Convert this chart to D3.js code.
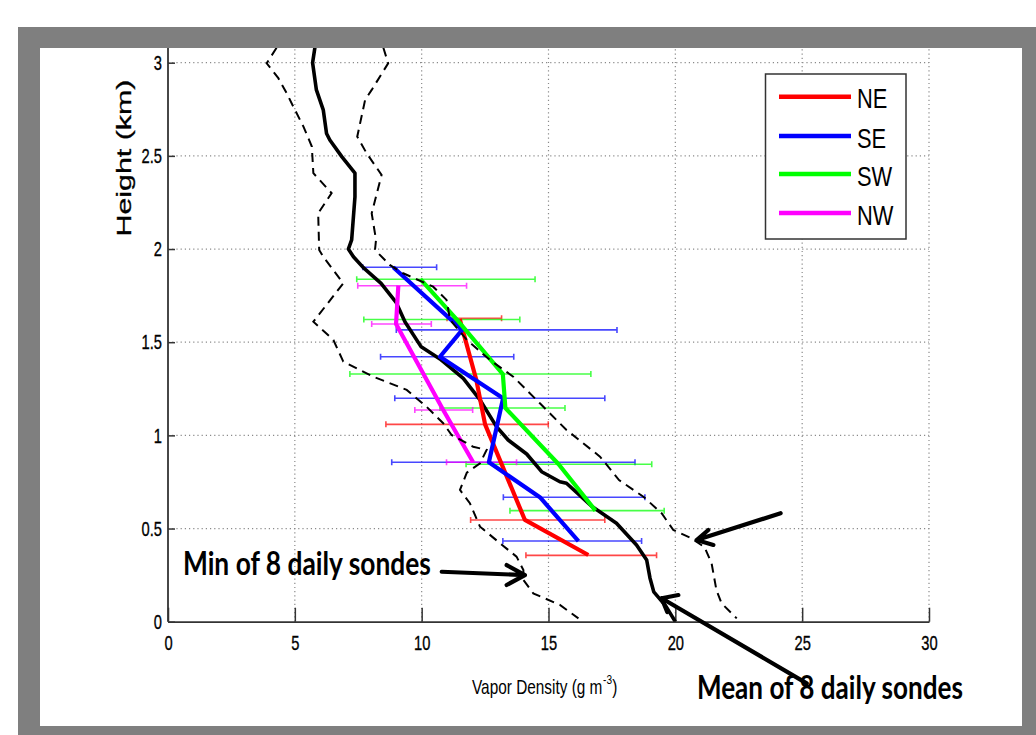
<!DOCTYPE html>
<html><head><meta charset="utf-8">
<script src="https://cdn.jsdelivr.net/npm/d3@7"></script>
<style>html,body{margin:0;padding:0;background:#fff;}svg{display:block;}</style>
</head><body>
<svg id="c" width="1036" height="735"></svg>
<script>
// ---- data (x = vapor density g m^-3, y = height km) ----
const xTicks = [0, 5, 10, 15, 20, 25, 30];
const yTicks = [0, 0.5, 1, 1.5, 2, 2.5, 3];
const yTickLabels = ["0", "0.5", "1", "1.5", "2", "2.5", "3"];
const seriesNames = ["NE", "SE", "SW", "NW"];
const seriesColors = ["#ff0000", "#0000ff", "#00ff00", "#ff00ff"];

const meanProfile = [[5.79,3.08],[5.70,3.0],[5.85,2.854],[6.12,2.747],[6.25,2.62],[6.38,2.585],[6.85,2.496],[7.37,2.407],[7.37,2.28],[7.24,2.049],[7.11,2.0],[7.31,1.959],[7.70,1.9],[8.40,1.816],[9.0,1.712],[9.34,1.61],[9.98,1.475],[10.72,1.41],[11.64,1.306],[12.30,1.19],[12.95,1.047],[13.41,0.975],[14.14,0.9],[14.73,0.805],[15.45,0.751],[15.71,0.743],[16.70,0.62],[17.68,0.528],[18.47,0.412],[18.87,0.331],[19.0,0.235],[19.15,0.16],[19.62,0.085],[20.0,0]];
const minProfile = [[4.28,3.08],[3.89,2.997],[4.35,2.917],[4.68,2.836],[4.94,2.764],[5.34,2.657],[5.67,2.55],[5.73,2.407],[6.45,2.30],[5.92,2.192],[5.96,1.995],[6.12,1.959],[6.91,1.816],[5.73,1.61],[6.52,1.512],[6.91,1.396],[8.09,1.315],[9.41,1.244],[10.19,1.154],[10.85,1.065],[11.18,1.002],[12.03,0.939],[12.56,0.922],[12.30,0.85],[11.78,0.80],[11.51,0.707],[11.90,0.636],[12.30,0.51],[13.09,0.421],[13.74,0.349],[14.01,0.277],[14.01,0.224],[14.40,0.152],[15.45,0.09],[16.18,0.018]];
const maxProfile = [[8.49,3.08],[8.68,2.997],[8.03,2.854],[7.77,2.80],[7.46,2.603],[7.83,2.514],[8.42,2.398],[8.03,2.192],[8.20,2.049],[8.16,1.995],[8.74,1.915],[9.27,1.87],[10.45,1.798],[10.98,1.727],[11.12,1.62],[11.78,1.512],[12.69,1.405],[13.61,1.315],[14.66,1.172],[15.71,1.029],[17.03,0.886],[17.78,0.76],[18.74,0.671],[19.46,0.582],[19.92,0.492],[20.6,0.45],[21.15,0.4],[21.43,0.313],[21.62,0.17],[21.82,0.099],[22.42,0.018]];

const neLine = [[11.5,1.624],[12.15,1.30],[12.5,1.059],[14.07,0.546],[16.57,0.358]];
const seLine = [[8.88,1.902],[11.6,1.566],[10.72,1.422],[13.21,1.199],[12.65,0.856],[14.66,0.668],[16.18,0.433]];
const swLine = [[9.95,1.838],[11.38,1.622],[13.2,1.329],[13.3,1.147],[15.4,0.845],[16.85,0.596]];
const nwLine = [[9.08,1.803],[8.99,1.598],[10.85,1.136],[12.03,0.856]];

// error bars: [height, low, high]
const neErr = [[1.628,11.0,13.15],[1.059,8.59,14.99],[0.546,11.93,17.22],[0.356,14.11,19.26]];
const seErr = [[1.902,7.68,10.59],[1.566,9.0,17.7],[1.422,8.38,13.63],[1.199,8.94,17.22],[0.856,8.82,18.41],[0.668,13.22,18.8],[0.433,13.2,18.67]];
const swErr = [[1.838,7.44,14.47],[1.622,7.72,13.87],[1.329,7.17,16.67],[1.147,10.72,15.65],[0.845,11.75,19.07],[0.596,13.48,19.56]];
const nwErr = [[1.803,7.48,11.77],[1.598,8.03,10.38],[1.136,9.73,12.01],[0.856,10.98,13.74]];

const annMin = {text: "Min of 8 daily sondes", x: 0.59, y: 0.251, tail: [10.79,0.268], tip: [14.07,0.25], barbs: [[13.35,0.304],[13.35,0.197]]};
const annMax = {tail: [24.15,0.582], tip: [20.84,0.438], barbs: [[21.30,0.492],[21.50,0.412]]};
const annMean = {text: "Mean of 8 daily sondes", x: 20.85, y: -0.415, tail: [25.18,-0.331], tip: [19.46,0.126], barbs: [[20.12,0.143],[19.68,0.052]]};

// ---- drawing ----
const svg = d3.select("#c");
svg.append("rect").attr("x",18).attr("y",27).attr("width",1018).attr("height",708).attr("fill","#7f7f7f");
svg.append("rect").attr("x",40).attr("y",48).attr("width",982).attr("height",678).attr("fill","#fff");

const x = d3.scaleLinear().domain([0,30]).range([168,929]);
const y = d3.scaleLinear().domain([0,3]).range([621.7,62.7]);
const yTop = 48;

svg.append("defs").append("clipPath").attr("id","clip").append("rect")
  .attr("x",168).attr("y",yTop).attr("width",780).attr("height",621.7-yTop);

function squeeze(sel, ratio){
  sel.each(function(){
    const l = this.getComputedTextLength();
    this.setAttribute("textLength", l*ratio);
    this.setAttribute("lengthAdjust","spacingAndGlyphs");
  });
}

// grid
const grid = svg.append("g").attr("stroke","#8a8a8a").attr("stroke-width",1.2).attr("stroke-dasharray","1.2,3");
grid.selectAll("line.v").data(xTicks.slice(1)).join("line")
  .attr("x1",d=>x(d)).attr("x2",d=>x(d)).attr("y1",y(0)).attr("y2",yTop);
grid.selectAll("line.h").data(yTicks.slice(1)).join("line")
  .attr("x1",x(0)).attr("x2",x(30)).attr("y1",d=>y(d)).attr("y2",d=>y(d));

// axes
const font = "'Liberation Sans', Arial, sans-serif";
const xAxis = svg.append("g").attr("transform",`translate(0,${y(0)})`)
  .call(d3.axisBottom(x).tickValues(xTicks).tickFormat(d3.format("d")).tickSizeInner(-14).tickSizeOuter(0).tickPadding(13.5));
const yAxis = svg.append("g").attr("transform",`translate(${x(0)},0)`)
  .call(d3.axisLeft(d3.scaleLinear().domain([0,3]).range([621.7,62.7])).tickValues(yTicks).tickFormat((d,i)=>yTickLabels[i]).tickSizeInner(-7).tickSizeOuter(0).tickPadding(6));
[xAxis,yAxis].forEach(a=>{
  a.select(".domain").attr("stroke","#333").attr("stroke-width",1.8);
  a.selectAll(".tick line").attr("stroke","#333").attr("stroke-width",1.5);
  a.selectAll(".tick text").attr("fill","#000").attr("stroke","#000").attr("stroke-width",0.35)
    .style("font-family",font).style("font-size","21px");
});
yAxis.select(".domain").attr("d",`M0,${y(0)}V${yTop}`);
squeeze(xAxis.selectAll(".tick text"), 0.7);
squeeze(yAxis.selectAll(".tick text"), 0.7);

const line = d3.line().x(d=>x(d[0])).y(d=>y(d[1]));
const plot = svg.append("g").attr("clip-path","url(#clip)");

// error bars
const errSets = [neErr, seErr, swErr, nwErr];
errSets.forEach((errs,i)=>{
  const g = plot.append("g").attr("stroke",seriesColors[i]).attr("stroke-opacity",0.72).attr("stroke-width",1.6).attr("fill","none");
  g.selectAll("path").data(errs).join("path")
    .attr("d",d=>`M${x(d[1])},${y(d[0])}H${x(d[2])}M${x(d[1])},${y(d[0])-3}V${y(d[0])+3}M${x(d[2])},${y(d[0])-3}V${y(d[0])+3}`);
});

// mean
plot.append("path").datum(meanProfile).attr("d",line).attr("fill","none").attr("stroke","#000").attr("stroke-width",3.6).attr("stroke-linejoin","round");
// regional lines
[neLine, seLine, swLine, nwLine].forEach((s,i)=>{
  plot.append("path").datum(s).attr("d",line).attr("fill","none").attr("stroke",seriesColors[i]).attr("stroke-width",4.2).attr("stroke-linejoin","round");
});
// min / max dashed
[minProfile, maxProfile].forEach(s=>{
  plot.append("path").datum(s).attr("d",line).attr("fill","none").attr("stroke","#000").attr("stroke-width",2).attr("stroke-dasharray","9,6");
});

// axis labels
const yl = svg.append("text").attr("transform","translate(131,158) rotate(-90)").attr("text-anchor","middle")
  .attr("stroke","#000").attr("stroke-width",0.3)
  .style("font-family",font).style("font-size","21px").text("Height (km)");
yl.attr("textLength",157).attr("lengthAdjust","spacingAndGlyphs");

const xl = svg.append("text").attr("transform","translate(472,694) scale(0.75,1)")
  .style("font-family",font).style("font-size","20.5px");
xl.append("tspan").text("Vapor Density (g m");
xl.append("tspan").attr("dy",-10).attr("dx",1).style("font-size","13.5px").text("-3");
xl.append("tspan").attr("dy",10).text(")");

// legend
const lg = svg.append("g");
lg.append("rect").attr("x",765.5).attr("y",74).attr("width",140.5).attr("height",165).attr("fill","#fff").attr("stroke","#333").attr("stroke-width",1.5);
const legY = [96.7, 136, 174, 213];
seriesNames.forEach((n,i)=>{
  lg.append("line").attr("x1",779).attr("x2",851).attr("y1",legY[i]).attr("y2",legY[i]).attr("stroke",seriesColors[i]).attr("stroke-width",4.5);
  const t = lg.append("text").attr("x",857).attr("y",legY[i]+11.5).style("font-family",font).style("font-size","28px").text(n);
  squeeze(t, 0.78);
});

// annotations
const annFont = "Lato, 'Open Sans', sans-serif";
function arrow(a){
  const p = `M${x(a.tail[0])},${y(a.tail[1])}L${x(a.tip[0])},${y(a.tip[1])}M${x(a.barbs[0][0])},${y(a.barbs[0][1])}L${x(a.tip[0])},${y(a.tip[1])}L${x(a.barbs[1][0])},${y(a.barbs[1][1])}`;
  svg.append("path").attr("d",p).attr("fill","none").attr("stroke","#000").attr("stroke-width",4.2).attr("stroke-linecap","round").attr("stroke-linejoin","round");
}
[annMin, annMax, annMean].forEach(arrow);
svg.append("text").attr("x",x(annMin.x)).attr("y",y(annMin.y)).style("font-family",annFont).style("font-weight","bold").style("font-size","32px")
  .attr("textLength",248).attr("lengthAdjust","spacingAndGlyphs").text(annMin.text);
svg.append("text").attr("x",x(annMean.x)).attr("y",y(annMean.y)).style("font-family",annFont).style("font-weight","bold").style("font-size","32px")
  .attr("textLength",266).attr("lengthAdjust","spacingAndGlyphs").text(annMean.text);
</script>
</body></html>
